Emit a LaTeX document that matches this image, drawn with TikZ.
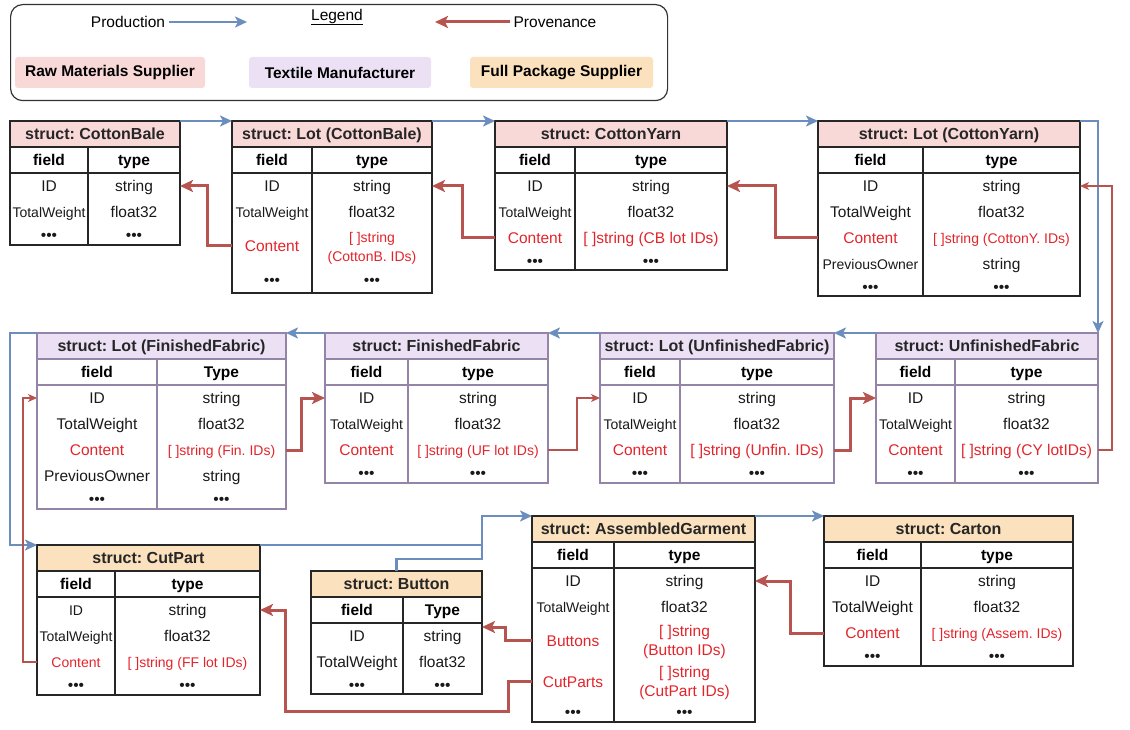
\documentclass[tikz,border=0pt]{standalone}
\usepackage{fontspec}
\setmainfont{Liberation Sans}
\usetikzlibrary{arrows.meta, positioning}
\frenchspacing

\definecolor{rawfill}{HTML}{F9D8D8}
\definecolor{texfill}{HTML}{EBE0F4}
\definecolor{pkgfill}{HTML}{FBE1BD}
\definecolor{texline}{HTML}{9485A8}
\definecolor{tabgrey}{HTML}{262626}
\definecolor{prodblue}{HTML}{6C8EBF}
\definecolor{provred}{HTML}{B85450}
\definecolor{idred}{HTML}{E3242B}

\newcommand{\cellfont}{\fontsize{15.5}{19}\selectfont}
\newcommand{\smallcellfont}{\fontsize{14}{19}\selectfont}
\newcommand{\titlefont}{\fontsize{16}{19}\selectfont\bfseries}
\newcommand{\cellstrut}{\rule[-3.5pt]{0pt}{18.5pt}}

\tikzstyle{prod} = [draw=prodblue, line width=2.5pt, -{Stealth[length=12pt, width=11pt, inset=3pt]}]
\tikzstyle{prodline} = [draw=prodblue, line width=2.5pt]
\tikzstyle{prov} = [draw=provred, line width=3pt, -{Stealth[length=13pt, width=12pt, inset=3pt]}]
\tikzstyle{provthin} = [draw=provred, line width=1.2pt, -{Stealth[length=9pt, width=8pt, inset=2.5pt]}]

\tikzset{
    tabline/.style={draw=tabgrey, line width=1.3pt},
    tabtitle/.style={inner sep=0pt, outer sep=0pt, minimum height=26pt, font=\titlefont, text=black!85},
    tabhead/.style={inner sep=0pt, outer sep=0pt, minimum height=26pt, font=\cellfont\bfseries},
    cell/.style={inner sep=0pt, outer sep=0pt, align=center, text=black!90},
    txt/.style={font=\cellfont},
    txtsm/.style={font=\smallcellfont},
    reftxt/.style={font=\cellfont, text=idred},
    reftxtsm/.style={font=\smallcellfont, text=idred},
    legendkey/.style={inner sep=0pt, rounded corners=3pt, minimum height=31pt, font=\cellfont\bfseries}
}

% struct table: [type head]{name}{top left}{field width}{type width}{fill}{title}{rows}
\newcommand{\structtab}[8][type]{%
    \node[tabtitle, tabline, fill=#6, minimum width=#4+#5, anchor=north west] (#2) at #3 {\cellstrut#7};
    \node[tabhead, tabline, minimum width=#4, anchor=north west] (#2-f0) at (#2.south west) {\cellstrut field};
    \node[tabhead, tabline, minimum width=#5, anchor=north west] (#2-t0) at (#2-f0.north east) {\cellstrut#1};
    \foreach \fld/\typ/\rh/\fs/\ts [count=\i, remember=\i as \j (initially 0)] in {#8} {
        \node[cell, \fs, minimum width=#4, minimum height=\rh, anchor=north west] (#2-f\i) at (#2-f\j.south west) {\cellstrut\fld};
        \node[cell, \ts, minimum width=#5, minimum height=\rh, anchor=north west] (#2-t\i) at (#2-f\i.north east) {\cellstrut\typ};
        \coordinate (#2-mid) at (#2-f\i.south east);
        \coordinate (#2-end) at (#2-t\i.south east);
    }
    \draw[tabline] (#2-f0.south west) rectangle (#2-end);
    \draw[tabline] (#2-f0.south east) -- (#2-mid);
}

\begin{document}
\begin{tikzpicture}[x=1pt, y=-1pt]
    \useasboundingbox (0,0) rectangle (1130,730);

    % Legend
    \node[draw=black!80, line width=1.2pt, rounded corners=12pt, minimum width=657pt, minimum height=96pt, anchor=north west] (legend) at (10,4) {};
    \node[txt] (prodlbl) at (128,22) {Production};
    \coordinate (prodend) at (247,22);
    \node[txt] (legendlbl) at (337,17) {\underline{Legend}};
    \node[txt] (provlbl) at (555,22) {Provenance};
    \coordinate (provend) at (435,22);
    \draw[prod] (prodlbl.east) -- (prodend);
    \draw[prov] (provlbl.west) -- (provend);
    \node[legendkey, fill=rawfill, minimum width=190pt] (rawkey) at (110,72.5) {Raw Materials Supplier};
    \node[legendkey, fill=texfill, minimum width=182pt] (texkey) at (340,72.5) {Textile Manufacturer};
    \node[legendkey, fill=pkgfill, minimum width=183pt] (pkgkey) at (561.5,72.5) {Full Package Supplier};

    % Raw materials supplier
    \structtab{cb}{(10,121)}{78}{92}{rawfill}{struct: CottonBale}{
        ID/string/26/txt/txt, TotalWeight/float32/26/txtsm/txt, •••/•••/20/txt/txt}
    \structtab{lotcb}{(232,121)}{80}{120}{rawfill}{struct: Lot (CottonBale)}{
        ID/string/26/txt/txt, TotalWeight/float32/26/txtsm/txt,
        Content/{[ ]string\\(CottonB. IDs)}/42/reftxt/reftxtsm, •••/•••/26/txt/txt}
    \structtab{cy}{(495,121)}{80}{152}{rawfill}{struct: CottonYarn}{
        ID/string/26/txt/txt, TotalWeight/float32/26/txtsm/txt,
        Content/{[ ]string (CB lot IDs)}/26/reftxt/reftxt, •••/•••/19/txt/txt}
    \structtab{lotcy}{(818,121)}{105}{157}{rawfill}{struct: Lot (CottonYarn)}{
        ID/string/26/txt/txt, TotalWeight/float32/26/txt/txt,
        Content/{[ ]string (CottonY. IDs)}/26/reftxt/reftxtsm,
        PreviousOwner/string/26/txtsm/txt, •••/•••/19/txt/txt}

    % Textile manufacturer
    \begin{scope}[tabline/.style={draw=texline, line width=1.3pt}]
        \structtab[Type]{lotff}{(37,333)}{120}{129}{texfill}{struct: Lot (FinishedFabric)}{
            ID/string/26/txt/txt, TotalWeight/float32/26/txt/txt,
            Content/{[ ]string (Fin. IDs)}/26/reftxt/reftxtsm,
            PreviousOwner/string/26/txt/txt, •••/•••/20/txt/txt}
        \structtab{ff}{(325,333)}{83}{140}{texfill}{struct: FinishedFabric}{
            ID/string/26/txt/txt, TotalWeight/float32/26/txtsm/txt,
            Content/{[ ]string (UF lot IDs)}/26/reftxt/reftxtsm, •••/•••/20/txt/txt}
        \structtab{lotuf}{(600,333)}{80}{154}{texfill}{struct: Lot (UnfinishedFabric)}{
            ID/string/26/txt/txt, TotalWeight/float32/26/txtsm/txt,
            Content/{[ ]string (Unfin. IDs)}/26/reftxt/reftxt, •••/•••/20/txt/txt}
        \structtab{uf}{(876,333)}{79}{143}{texfill}{struct: UnfinishedFabric}{
            ID/string/26/txt/txt, TotalWeight/float32/26/txtsm/txt,
            Content/{[ ]string (CY lotIDs)}/26/reftxt/reftxt, •••/•••/20/txt/txt}
    \end{scope}

    % Full package supplier
    \structtab{cp}{(37,545)}{78}{145}{pkgfill}{struct: CutPart}{
        ID/string/26/txtsm/txt, TotalWeight/float32/26/txtsm/txt,
        Content/{[ ]string (FF lot IDs)}/26/reftxtsm/reftxtsm, •••/•••/20/txt/txt}
    \structtab[Type]{btn}{(311,571)}{92}{79}{pkgfill}{struct: Button}{
        ID/string/26/txt/txt, TotalWeight/float32/26/txt/txt, •••/•••/19/txt/txt}
    \structtab{ag}{(532,516)}{82}{141}{pkgfill}{struct: AssembledGarment}{
        ID/string/26/txt/txt, TotalWeight/float32/26/txtsm/txt,
        Buttons/{[ ]string\\(Button IDs)}/41/reftxt/reftxt,
        CutParts/{[ ]string\\(CutPart IDs)}/41/reftxt/reftxt, •••/•••/20/txt/txt}
    \structtab{ctn}{(824,516)}{97}{152}{pkgfill}{struct: Carton}{
        ID/string/26/txt/txt, TotalWeight/float32/26/txt/txt,
        Content/{[ ]string (Assem. IDs)}/26/reftxt/reftxtsm, •••/•••/20/txt/txt}

    % Production arrows
    \draw[prod] (cb.north east) -- (lotcb.north west);
    \draw[prod] (lotcb.north east) -- (cy.north west);
    \draw[prod] (cy.north east) -- (lotcy.north west);
    \draw[prod] (lotcy.north east) -| (uf.north east);
    \draw[prod] (uf.north west) -- (lotuf.north east);
    \draw[prod] (lotuf.north west) -- (ff.north east);
    \draw[prod] (ff.north west) -- (lotff.north east);
    \draw[prod] (lotff.north west) -- ++(-27,0) |- (cp.north west);
    \draw[prodline] (btn.north) -- ++(0,-12) -| (btn.north east |- cp.north east);
    \draw[prod] (cp.north east) -- (cp.north east -| btn.north east) |- (ag.north west);
    \draw[prod] (ag.north east) -- (ctn.north west);

    % Provenance arrows
    \draw[prov] (lotcb-f3.west) -- ++(-25,0) |- (cb-t1.east);
    \draw[prov] (cy-f3.west) -- ++(-33,0) |- (lotcb-t1.east);
    \draw[prov] (lotcy-f3.west) -- ++(-43,0) |- (cy-t1.east);
    \draw[provthin] (uf-t3.east) -- ++(14,0) |- (lotcy-t1.east);
    \draw[prov] (lotuf-t3.east) -- ++(16,0) |- (uf-f1.west);
    \draw[provthin] (ff-t3.east) -- ++(29,0) |- (lotuf-f1.west);
    \draw[prov] (lotff-t3.east) -- ++(15,0) |- (ff-f1.west);
    \draw[provthin] (cp-f3.west) -- ++(-14,0) |- (lotff-f1.west);
    \draw[prov] (ag-f3.west) -- ++(-27,0) |- ([yshift=-4pt]btn-t1.north east);
    \draw[prov] (ag-f4.west) -- ++(-24,0) -- ++(0,30) -| ([xshift=25pt]cp-t1.east) -- (cp-t1.east);
    \draw[prov] (ctn-f3.west) -- ++(-34,0) |- (ag-t1.east);
\end{tikzpicture}
\end{document}
